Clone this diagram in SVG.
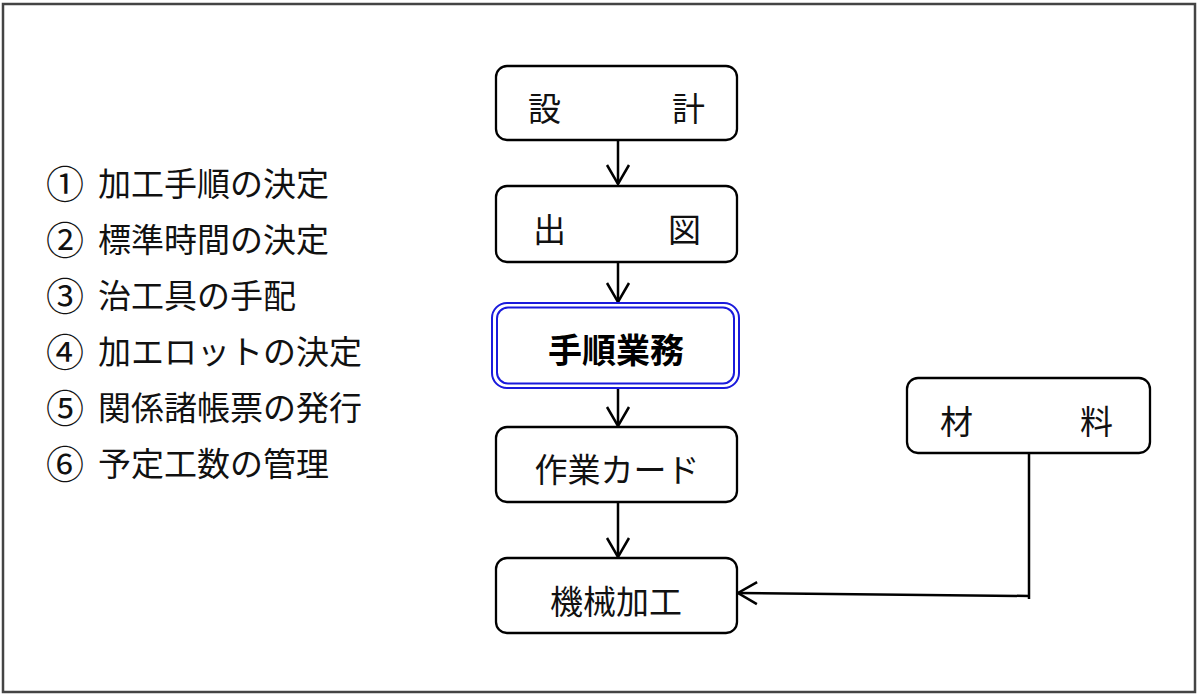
<svg xmlns="http://www.w3.org/2000/svg" width="1200" height="696" viewBox="0 0 1200 696">
<defs>
<style>
.box{fill:#fff;stroke:#000;stroke-width:2.3}
.t{font-family:"Noto Sans CJK JP","Noto Sans CJK SC",sans-serif;font-size:33px;fill:#111}
.b{font-family:"Noto Sans CJK JP","Noto Sans CJK SC",sans-serif;font-size:34px;font-weight:bold;fill:#000}
.l{font-family:"Noto Sans CJK JP","Noto Sans CJK SC",sans-serif;font-size:33px;fill:#111}
.n{font-family:"Noto Sans CJK JP","Noto Sans CJK SC",sans-serif;font-size:38px;fill:#111}
.c{fill:none;stroke:#000;stroke-width:2.5}
</style>
<marker id="arr" markerWidth="24" markerHeight="26" viewBox="0 0 24 26" refX="21" refY="13" orient="auto" markerUnits="userSpaceOnUse">
<path d="M2,2 L21,13 L2,24" fill="none" stroke="#000" stroke-width="2.5"/>
</marker>
</defs>
<rect x="3" y="4" width="1192" height="688" fill="#fff" stroke="#444" stroke-width="2.5"/>
<g id="list">
<text class="n" x="46" y="198">①</text><text class="l" x="98" y="196">加工手順の決定</text>
<text class="n" x="46" y="254">②</text><text class="l" x="98" y="252">標準時間の決定</text>
<text class="n" x="46" y="310">③</text><text class="l" x="98" y="308">治工具の手配</text>
<text class="n" x="46" y="366">④</text><text class="l" x="98" y="364">加エロットの決定</text>
<text class="n" x="46" y="422">⑤</text><text class="l" x="98" y="420">関係諸帳票の発行</text>
<text class="n" x="46" y="478">⑥</text><text class="l" x="98" y="476">予定工数の管理</text>
</g>
<g id="connectors">
<line class="c" x1="618" y1="140" x2="618" y2="184" marker-end="url(#arr)"/>
<line class="c" x1="618" y1="262" x2="618" y2="302" marker-end="url(#arr)"/>
<line class="c" x1="618" y1="388" x2="618" y2="426" marker-end="url(#arr)"/>
<line class="c" x1="618" y1="502" x2="618" y2="557" marker-end="url(#arr)"/>
<polyline class="c" points="1029,453 1029,599"/>
<line class="c" x1="1029" y1="596" x2="738" y2="593" marker-end="url(#arr)"/>
</g>
<g id="sekkei">
<rect class="box" x="496" y="66" width="241" height="74" rx="11"/>
<text class="t" x="528" y="121">設</text><text class="t" x="672" y="121">計</text>
</g>
<g id="shutsuzu">
<rect class="box" x="496" y="186" width="241" height="76" rx="11"/>
<text class="t" x="533" y="242">出</text><text class="t" x="668" y="242">図</text>
</g>
<g id="tejun">
<rect x="492" y="303" width="247" height="85" rx="15" fill="#fff" stroke="#1a1adc" stroke-width="2"/>
<rect x="497" y="307.5" width="237" height="76" rx="11" fill="none" stroke="#1a1adc" stroke-width="2"/>
<text class="b" x="616" y="363" text-anchor="middle">手順業務</text>
</g>
<g id="sagyo">
<rect class="box" x="496" y="427" width="241" height="75" rx="11"/>
<text class="t" x="617" y="482" text-anchor="middle">作業カード</text>
</g>
<g id="kikai">
<rect class="box" x="496" y="558" width="241" height="75" rx="11"/>
<text class="t" x="616" y="614" text-anchor="middle">機械加工</text>
</g>
<g id="zairyo">
<rect class="box" x="907" y="378" width="243" height="75" rx="11"/>
<text class="t" x="940" y="434">材</text><text class="t" x="1080" y="434">料</text>
</g>
</svg>
